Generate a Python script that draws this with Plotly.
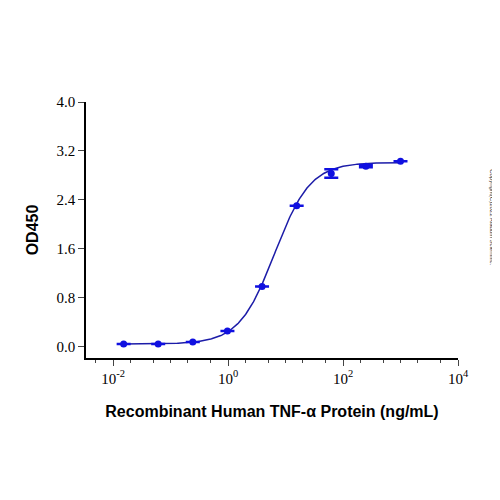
import numpy as np
import plotly.graph_objects as go

# measured points (ng/mL, OD450)
conc = [0.0153, 0.061, 0.244, 0.977, 3.906, 15.63, 62.5, 250, 1000]
od = [0.04, 0.04, 0.07, 0.25, 0.98, 2.30, 2.83, 2.95, 3.03]
od_err = [0.0, 0.0, 0.0, 0.0, 0.0, 0.0, 0.07, 0.02, 0.0]

# 4PL fit parameters
bottom, top, ec50, hill = 0.04, 3.01, 6.5, 1.4

xticks = [0.01, 1, 100, 10000]
xticklabels = ["10<sup>-2</sup>", "10<sup>0</sup>", "10<sup>2</sup>", "10<sup>4</sup>"]
yticks = [0.0, 0.8, 1.6, 2.4, 3.2, 4.0]

xs = np.logspace(np.log10(conc[0]), np.log10(conc[-1]), 300)
ys = bottom + (top - bottom) / (1 + (ec50 / xs) ** hill)

fig = go.Figure()
fig.add_scatter(x=xs, y=ys, mode="lines", line=dict(color="#1c1ca8", width=1.5),
                hoverinfo="skip")
fig.add_scatter(x=conc, y=od, mode="markers",
                marker=dict(color="#1010e0", size=7),
                error_y=dict(array=od_err, color="#1010e0", thickness=2.5, width=7))

fig.update_layout(
    width=500, height=500, showlegend=False,
    plot_bgcolor="white", paper_bgcolor="white",
    margin=dict(l=78, r=50, t=94, b=150),
    font=dict(family="Liberation Serif", size=15, color="black"),
)
fig.update_xaxes(type="log", range=[-2.47, 4.0], tickvals=xticks, ticktext=xticklabels,
                 showline=True, linecolor="black", linewidth=1.5, ticks="outside",
                 ticklen=6, showgrid=False, zeroline=False,
                 minor=dict(ticks="outside", ticklen=3, showgrid=False),
                 title=dict(text="<b>Recombinant Human TNF-α Protein (ng/mL)</b>",
                            font=dict(family="Liberation Sans", size=16), standoff=20))
fig.update_yaxes(range=[-0.19, 4.0], tickvals=yticks, tickformat=".1f",
                 showline=True, linecolor="black", linewidth=1.5, ticks="outside",
                 ticklen=6, showgrid=False, zeroline=False,
                 title=dict(text="<b>OD450</b>", font=dict(family="Liberation Sans", size=16),
                            standoff=14))
fig.add_annotation(text="Copyright(C)2022 Aladdin Scientific.", xref="paper", yref="paper",
                   x=1.105, y=0.55, textangle=90, showarrow=False,
                   font=dict(family="Liberation Sans", size=6, color="#333"))
fig.write_html("out.html")
